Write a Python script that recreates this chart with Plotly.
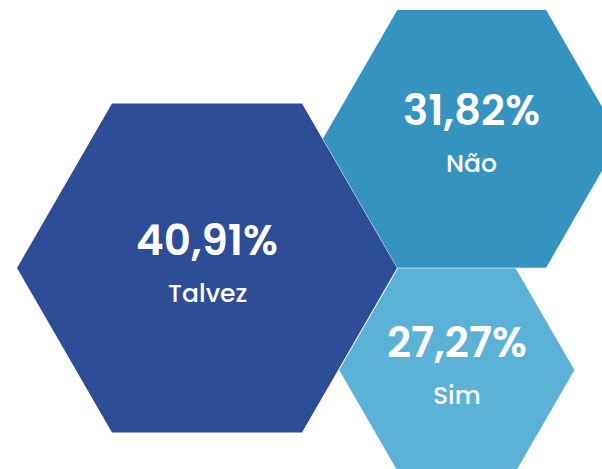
import math
import plotly.graph_objects as go

# Data
categories = ["Talvez", "Não", "Sim"]
values = [40.91, 31.82, 27.27]

# Layout (hexagon placement in pixel space) and styles
centers_x = [207, 471.7, 456.8]
centers_y = [268, 138.8, 370]
radii = [190, 148.8, 117.6]
colors = ["#2d4e96", "#3493bf", "#5cb1d6"]
draw_order = [2, 1, 0]

W, H = 602, 469
FONT = "Poppins, Inter, Lato, sans-serif"

fig = go.Figure()


def hexagon(cx, cy, r):
    xs, ys = [], []
    for k in range(7):
        a = math.radians(60 * k)
        xs.append(cx + r * math.cos(a))
        ys.append(cy + r * math.sin(a))
    return xs, ys


for i in draw_order:
    xs, ys = hexagon(centers_x[i], centers_y[i], radii[i])
    fig.add_trace(go.Scatter(
        x=xs, y=ys, mode="lines", fill="toself",
        fillcolor=colors[i], line=dict(width=0, color=colors[i]),
        hoverinfo="skip", showlegend=False,
    ))

for i, (cat, v) in enumerate(zip(categories, values)):
    pct = f"{v:.2f}".replace(".", ",") + "%"
    fig.add_annotation(
        x=centers_x[i], y=centers_y[i] - 28, text=pct,
        showarrow=False, xanchor="center", yanchor="middle",
        font=dict(family=FONT, size=42, color="white", weight=600),
    )
    fig.add_annotation(
        x=centers_x[i], y=centers_y[i] + 25, text=cat,
        showarrow=False, xanchor="center", yanchor="middle",
        font=dict(family=FONT, size=25, color="white", weight=500),
    )

fig.update_layout(
    width=W, height=H,
    margin=dict(l=0, r=0, t=0, b=0),
    paper_bgcolor="white", plot_bgcolor="white",
    xaxis=dict(range=[0, W], visible=False, fixedrange=True),
    yaxis=dict(range=[H, 0], visible=False, fixedrange=True),
)

fig.write_html(
    "out.html",
    config={"displayModeBar": False},
    post_script="document.body.style.margin='0';",
)
